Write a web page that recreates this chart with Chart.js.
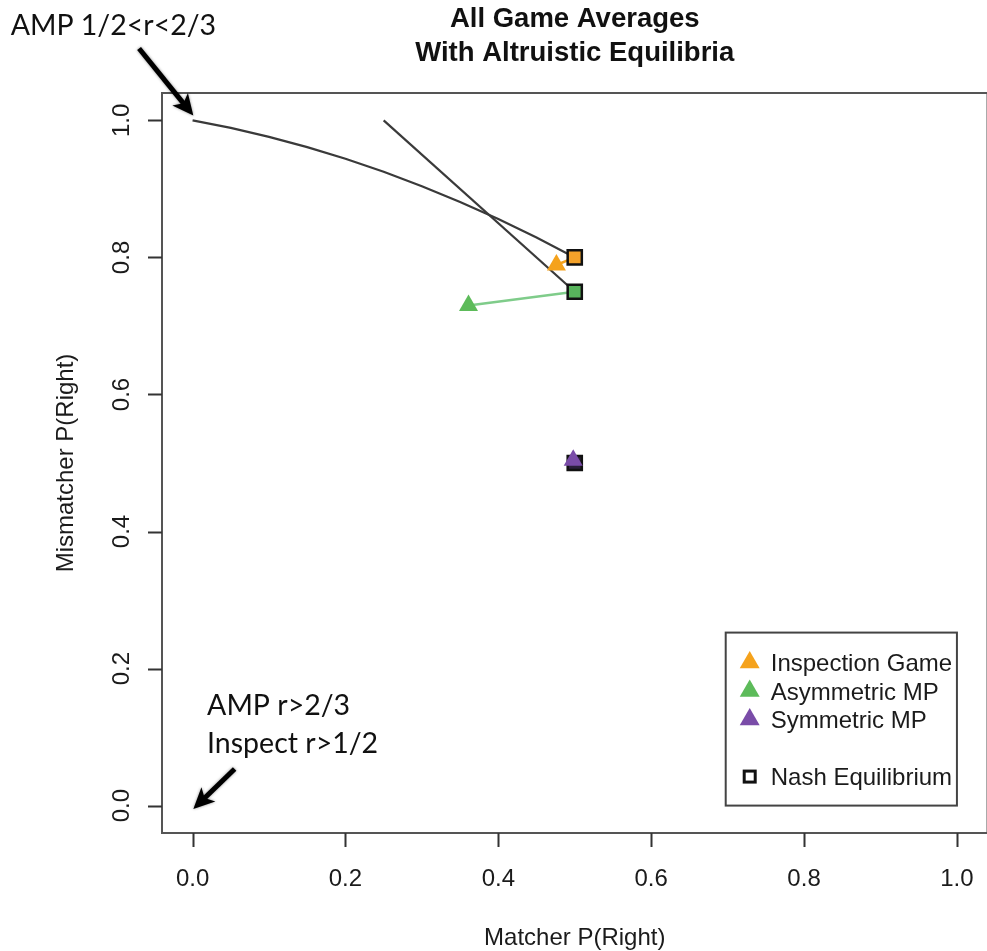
<!DOCTYPE html>
<html>
<head>
<meta charset="utf-8">
<script src="https://cdn.jsdelivr.net/npm/chart.js@4/dist/chart.umd.min.js"></script>
<style>
  html, body { margin: 0; padding: 0; background: #fff; overflow: hidden; }
  #wrap { width: 1000px; height: 951px; }
</style>
</head>
<body>
<div id="wrap"><canvas id="c" width="1000" height="951"></canvas></div>
<script>
"use strict"

// ---- data ----
const games = ['Inspection Game', 'Asymmetric MP', 'Symmetric MP']
const avgX = [0.476, 0.361, 0.498]
const avgY = [0.789, 0.730, 0.504]
const nashX = [0.5, 0.5, 0.5]
const nashY = [0.80, 0.75, 0.50]

// altruistic equilibrium paths
const curveX = [0.0, 0.05, 0.1, 0.15, 0.2, 0.25, 0.3, 0.35, 0.4, 0.45, 0.5]
const curveY = [1.0, 0.989, 0.976, 0.961, 0.944, 0.925, 0.904, 0.881, 0.856, 0.829, 0.80]
const lineX = [0.25, 0.5]
const lineY = [1.0, 0.75]

const xTicks = [0, 0.2, 0.4, 0.6, 0.8, 1.0]
const yTicks = [0, 0.2, 0.4, 0.6, 0.8, 1.0]
const tickLabels = ['0.0', '0.2', '0.4', '0.6', '0.8', '1.0']

const gameColors = ['#F5A21C', '#5DBB5A', '#7A4CA8']
const squareFill = ['#F4A22A', '#58B45C', '#2a1f3a']
const linkColors = ['#F5A21C', '#7FCC8A', '#7A4CA8']

const pts = (xs, ys) => xs.map((x, i) => ({ x: x, y: ys[i] }))

const datasets = [
	{ label: 'curve', data: pts(curveX, curveY), showLine: true, borderColor: '#3a3a3a',
		borderWidth: 2.2, pointRadius: 0, order: 20 },
	{ label: 'line', data: pts(lineX, lineY), showLine: true, borderColor: '#3a3a3a',
		borderWidth: 2.2, pointRadius: 0, order: 19 }
]
games.forEach(function (g, i) {
	datasets.push({ label: g + ' link', data: [{ x: avgX[i], y: avgY[i] }, { x: nashX[i], y: nashY[i] }],
		showLine: true, borderColor: linkColors[i], borderWidth: 2.5, pointRadius: 0, order: 15 })
	datasets.push({ label: g + ' nash', data: [{ x: nashX[i], y: nashY[i] }], pointStyle: 'rect',
		pointRadius: 10, backgroundColor: squareFill[i], borderColor: '#111', borderWidth: 2.5, order: 10 })
	datasets.push({ label: g, data: [{ x: avgX[i], y: avgY[i] }], pointStyle: 'triangle',
		pointRadius: 11, backgroundColor: gameColors[i], borderColor: gameColors[i], borderWidth: 0, order: 1 })
})

const FONT = '"Liberation Sans", Arial, Helvetica, sans-serif'
const NOTE_FONT = 'Lato, "Open Sans", sans-serif'

function arrow(ctx, x0, y0, x1, y1) {
	const a = Math.atan2(y1 - y0, x1 - x0)
	const hl = 21, hw = 10
	ctx.save()
	ctx.shadowColor = 'rgba(0,0,0,0.45)'
	ctx.shadowBlur = 3
	ctx.strokeStyle = '#000'
	ctx.fillStyle = '#000'
	ctx.lineWidth = 5
	ctx.beginPath()
	ctx.moveTo(x0, y0)
	ctx.lineTo(x1 - Math.cos(a) * hl * 0.7, y1 - Math.sin(a) * hl * 0.7)
	ctx.stroke()
	ctx.beginPath()
	ctx.moveTo(x1, y1)
	ctx.lineTo(x1 - Math.cos(a) * hl - Math.sin(a) * hw, y1 - Math.sin(a) * hl + Math.cos(a) * hw)
	ctx.lineTo(x1 - Math.cos(a) * hl * 0.75, y1 - Math.sin(a) * hl * 0.75)
	ctx.lineTo(x1 - Math.cos(a) * hl + Math.sin(a) * hw, y1 - Math.sin(a) * hl - Math.cos(a) * hw)
	ctx.closePath()
	ctx.fill()
	ctx.restore()
}

const rFrame = {
	id: 'rFrame',
	beforeDatasetsDraw: function (chart) {
		const ctx = chart.ctx, a = chart.chartArea
		const xs = chart.scales.x, ys = chart.scales.y
		ctx.save()
		ctx.strokeStyle = '#555'
		ctx.lineWidth = 2
		ctx.strokeRect(a.left, a.top, a.right - a.left, a.bottom - a.top)
		// ticks
		ctx.strokeStyle = '#333'
		ctx.beginPath()
		xTicks.forEach(function (v) {
			const px = Math.round(xs.getPixelForValue(v)) + 0.5
			ctx.moveTo(px, a.bottom); ctx.lineTo(px, a.bottom + 14)
		})
		yTicks.forEach(function (v) {
			const py = Math.round(ys.getPixelForValue(v)) + 0.5
			ctx.moveTo(a.left, py); ctx.lineTo(a.left - 14, py)
		})
		ctx.stroke()
		// tick labels
		ctx.fillStyle = '#1b1b1b'
		ctx.font = '24px ' + FONT
		ctx.textAlign = 'center'
		ctx.textBaseline = 'alphabetic'
		xTicks.forEach(function (v, i) {
			ctx.fillText(tickLabels[i], xs.getPixelForValue(v), 886)
		})
		yTicks.forEach(function (v, i) {
			ctx.save()
			ctx.translate(129, ys.getPixelForValue(v))
			ctx.rotate(-Math.PI / 2)
			ctx.fillText(tickLabels[i], 0, 0)
			ctx.restore()
		})
		// axis titles
		ctx.fillText('Matcher P(Right)', (a.left + a.right) / 2, 945)
		ctx.save()
		ctx.translate(73, (a.top + a.bottom) / 2)
		ctx.rotate(-Math.PI / 2)
		ctx.fillText('Mismatcher P(Right)', 0, 0)
		ctx.restore()
		// title
		ctx.fillStyle = '#111'
		ctx.font = 'bold 27.5px ' + FONT
		ctx.fillText('All Game Averages', (a.left + a.right) / 2, 27)
		ctx.fillText('With Altruistic Equilibria', (a.left + a.right) / 2, 61)
		ctx.restore()
	},
	afterDatasetsDraw: function (chart) {
		const ctx = chart.ctx
		const xs = chart.scales.x, ys = chart.scales.y
		const X = function (v) { return xs.getPixelForValue(v) }
		const Y = function (v) { return ys.getPixelForValue(v) }

		// legend box, anchored at (1, 0) in data units
		const right = X(1.0), bottom = Y(0.0)
		const left = X(0.6975), top = Y(0.2525)
		ctx.save()
		ctx.fillStyle = '#fff'
		ctx.fillRect(left, top, right - left, bottom - top)
		ctx.strokeStyle = '#444'
		ctx.lineWidth = 2
		ctx.strokeRect(left, top, right - left, bottom - top)
		ctx.font = '24px ' + FONT
		ctx.textAlign = 'left'
		ctx.textBaseline = 'alphabetic'
		const mx = left + 24, tx = left + 45
		const rows = [0, 1, 2, 4]
		rows.forEach(function (r, k) {
			const cy = top + 30 + r * 28.5
			if (k < 3) {
				const rad = 11.5
				ctx.fillStyle = gameColors[k]
				ctx.beginPath()
				ctx.moveTo(mx, cy - rad)
				ctx.lineTo(mx + rad * 0.866, cy + rad / 2)
				ctx.lineTo(mx - rad * 0.866, cy + rad / 2)
				ctx.closePath()
				ctx.fill()
				ctx.fillStyle = '#1b1b1b'
				ctx.fillText(games[k], tx, cy + 8.5)
			} else {
				ctx.strokeStyle = '#111'
				ctx.lineWidth = 3
				ctx.strokeRect(mx - 5.5, cy - 5.5, 11, 11)
				ctx.fillStyle = '#1b1b1b'
				ctx.fillText('Nash Equilibrium', tx, cy + 8.5)
			}
		})

		// notes and arrows
		ctx.fillStyle = '#111'
		ctx.font = '28.5px ' + NOTE_FONT
		ctx.fillText('AMP 1/2<r<2/3', X(-0.238), Y(1.125))
		ctx.fillText('AMP r>2/3', X(0.019), Y(0.132))
		ctx.fillText('Inspect r>1/2', X(0.019), Y(0.077))
		ctx.restore()
		arrow(ctx, X(-0.07), Y(1.105), X(0.001), Y(1.007))
		arrow(ctx, X(0.055), Y(0.0535), X(0.001), Y(-0.005))
	}
}

new Chart(document.getElementById('c'), {
	type: 'scatter',
	data: { datasets: datasets },
	options: {
		responsive: false,
		animation: false,
		devicePixelRatio: 1,
		layout: { padding: { left: 162, top: 93, right: 10, bottom: 118 } },
		plugins: { legend: { display: false }, tooltip: { enabled: false } },
		scales: {
			x: { type: 'linear', min: -0.04, max: 1.04, display: false },
			y: { type: 'linear', min: -0.04, max: 1.04, display: false }
		}
	},
	plugins: [rFrame]
})
</script>
</body>
</html>
